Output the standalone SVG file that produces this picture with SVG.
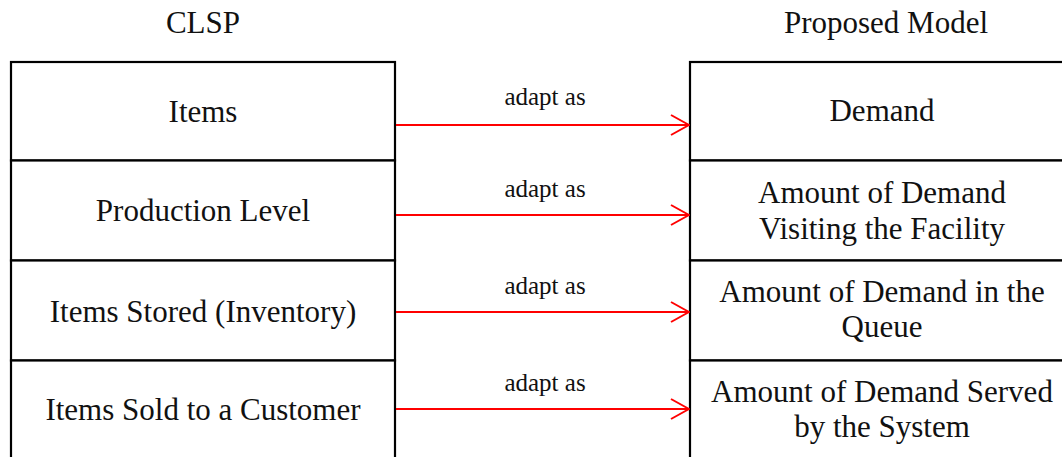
<svg xmlns="http://www.w3.org/2000/svg" width="1062" height="457" viewBox="0 0 1062 457">
  <style>
    .cell { fill: #ffffff; stroke: #000000; stroke-width: 2.2; }
    .title { font-family: "Liberation Serif", "Times New Roman", serif; font-size: 31px; fill: #111111; text-anchor: middle; }
    .label { font-family: "Liberation Serif", "Times New Roman", serif; font-size: 31px; fill: #111111; text-anchor: middle; }
    .edge-label { font-family: "Liberation Serif", "Times New Roman", serif; font-size: 25px; fill: #111111; text-anchor: middle; }
    .edge { fill: none; stroke: #ff0000; stroke-width: 2; }
  </style>
  <defs>
    <marker id="open-arrow" viewBox="0 0 20 22" refX="19" refY="11" markerWidth="20" markerHeight="22" markerUnits="userSpaceOnUse" orient="auto">
      <path d="M1,1 L19,11 L1,21" fill="none" stroke="#ff0000" stroke-width="2"/>
    </marker>
  </defs>

  <rect width="1062" height="457" fill="#ffffff"/>

  <!-- column headings -->
  <text class="title" x="203" y="33">CLSP</text>
  <text class="title" x="886" y="33">Proposed Model</text>

  <!-- left column: CLSP terms -->
  <g id="clsp-items">
    <rect class="cell" x="11" y="62" width="384" height="98.5"/>
    <text class="label" x="203" y="122">Items</text>
  </g>
  <g id="clsp-production-level">
    <rect class="cell" x="11" y="160.5" width="384" height="100"/>
    <text class="label" x="203" y="221">Production Level</text>
  </g>
  <g id="clsp-items-stored">
    <rect class="cell" x="11" y="260.5" width="384" height="100"/>
    <text class="label" x="203" y="322">Items Stored (Inventory)</text>
  </g>
  <g id="clsp-items-sold">
    <rect class="cell" x="11" y="360.5" width="384" height="104"/>
    <text class="label" x="203" y="420">Items Sold to a Customer</text>
  </g>

  <!-- right column: proposed model terms -->
  <g id="model-demand">
    <rect class="cell" x="690" y="62" width="384" height="98.5"/>
    <text class="label" x="882" y="121">Demand</text>
  </g>
  <g id="model-visiting">
    <rect class="cell" x="690" y="160.5" width="384" height="100"/>
    <text class="label" x="882" y="203">Amount of Demand</text>
    <text class="label" x="882" y="239">Visiting the Facility</text>
  </g>
  <g id="model-queue">
    <rect class="cell" x="690" y="260.5" width="384" height="100"/>
    <text class="label" x="882" y="302">Amount of Demand in the</text>
    <text class="label" x="882" y="337">Queue</text>
  </g>
  <g id="model-served">
    <rect class="cell" x="690" y="360.5" width="384" height="104"/>
    <text class="label" x="882" y="402">Amount of Demand Served</text>
    <text class="label" x="882" y="437">by the System</text>
  </g>

  <!-- mappings -->
  <g id="connectors">
    <line class="edge" x1="396" y1="125" x2="689" y2="125" marker-end="url(#open-arrow)"/>
    <text class="edge-label" x="545" y="105">adapt as</text>
    <line class="edge" x1="396" y1="215" x2="689" y2="215" marker-end="url(#open-arrow)"/>
    <text class="edge-label" x="545" y="197">adapt as</text>
    <line class="edge" x1="396" y1="312" x2="689" y2="312" marker-end="url(#open-arrow)"/>
    <text class="edge-label" x="545" y="294">adapt as</text>
    <line class="edge" x1="396" y1="409" x2="689" y2="409" marker-end="url(#open-arrow)"/>
    <text class="edge-label" x="545" y="391">adapt as</text>
  </g>
</svg>
